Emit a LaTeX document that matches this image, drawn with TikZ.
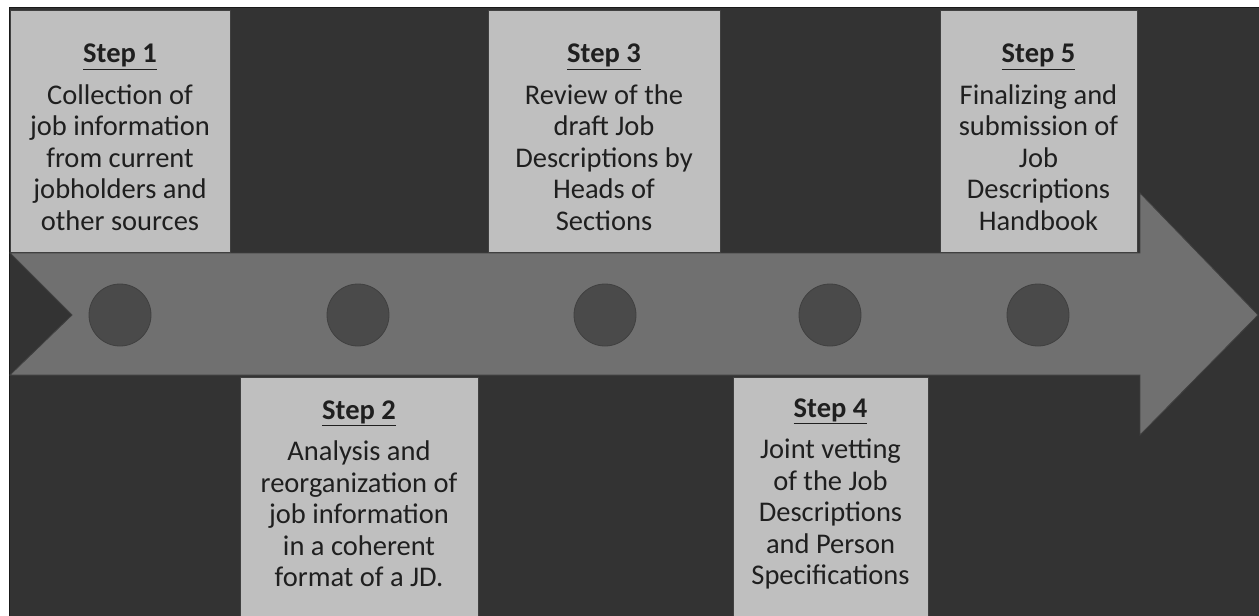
\documentclass[tikz,border=0pt]{standalone}
\usepackage{fontspec}
\setmainfont{Carlito}
\begin{document}
\begin{tikzpicture}[x=1pt,y=-1pt,
  bgcol/.style={fill=black!80},
  stepbox/.style={draw=black!75,line width=0.8pt,fill=black!25,inner sep=0pt,minimum height=242pt},
  steptext/.style={inner sep=0pt,align=center,text=black!88,font=\fontsize{28.5}{31.5}\selectfont},
  dot/.style={circle,draw=black!75,line width=0.8pt,fill=black!71,minimum size=62pt,inner sep=0pt}]
\useasboundingbox (0,0) rectangle (1259,616);
\fill[white] (0,0) rectangle (1259,616);
% dark panel
\draw[bgcol,draw=black!90,line width=1pt] (9,7) rectangle (1262,620);
% timeline arrow
\draw[fill=black!56,draw=black!75,line width=0.8pt]
  (10,253) -- (1140,253) -- (1140,193) -- (1258,315) -- (1140,435) -- (1140,375)
  -- (10,375) -- (72,315) -- cycle;
% milestones on the arrow
\node[dot] (d1) at (120,315) {};
\node[dot] (d2) at (358,315) {};
\node[dot] (d3) at (605,315) {};
\node[dot] (d4) at (830,315) {};
\node[dot] (d5) at (1038,315) {};
% step boxes
\node[stepbox,minimum width=220pt] (s1) at (120,131) {};
\node[stepbox,minimum width=232pt] (s3) at (604,131) {};
\node[stepbox,minimum width=197pt] (s5) at (1038.5,131) {};
\node[stepbox,minimum width=238pt] (s2) at (359,498) {};
\node[stepbox,minimum width=195pt] (s4) at (830.5,498) {};
% step texts
\node[steptext] (t1) at (120,137.5)
  {\textbf{\underline{Step 1}}\\[10pt]Collection of\\job information\\from current\\jobholders and\\other sources};
\node[steptext] (t3) at (604,137.5)
  {\textbf{\underline{Step 3}}\\[10pt]Review of the\\draft Job\\Descriptions by\\Heads of\\Sections};
\node[steptext] (t5) at (1038.5,137.5)
  {\textbf{\underline{Step 5}}\\[10pt]Finalizing and\\submission of\\Job\\Descriptions\\Handbook};
\node[steptext] (t2) at (359,494)
  {\textbf{\underline{Step 2}}\\[10pt]Analysis and\\reorganization of\\job information\\in a coherent\\format of a JD.};
\node[steptext] (t4) at (830.5,494)
  {\textbf{\underline{Step 4}}\\[10pt]Joint vetting\\of the Job\\Descriptions\\and Person\\Specifications};
\end{tikzpicture}
\end{document}
